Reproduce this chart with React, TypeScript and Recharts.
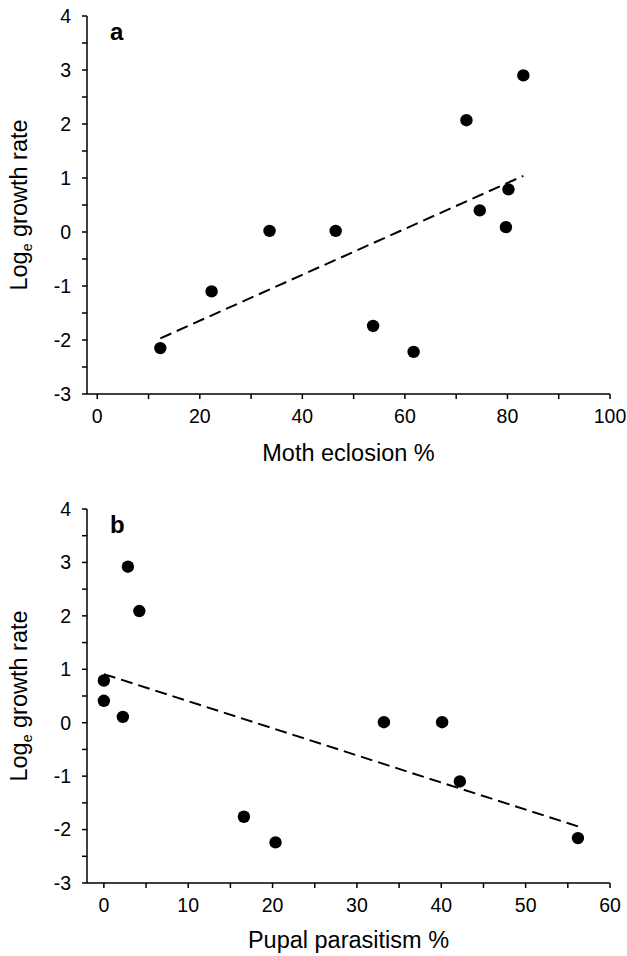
import { ScatterChart, Scatter, XAxis, YAxis, ReferenceLine, Label } from 'recharts';

// panel a: moth eclosion vs growth
const eclosion = [12.3, 22.3, 33.6, 46.5, 53.8, 61.7, 72.0, 74.6, 79.7, 80.2, 83.1];
const growthA = [-2.15, -1.1, 0.02, 0.02, -1.74, -2.22, 2.07, 0.4, 0.09, 0.79, 2.9];
const fitAx = [12.3, 83.1];
const fitAy = [-1.97, 1.04];

// panel b: pupal parasitism vs growth
const parasitism = [0.0, 0.0, 2.25, 2.85, 4.2, 16.6, 20.35, 33.2, 40.1, 42.2, 56.2];
const growthB = [0.79, 0.41, 0.11, 2.92, 2.09, -1.76, -2.24, 0.01, 0.01, -1.1, -2.16];
const fitBx = [0, 56.2];
const fitBy = [0.91, -1.94];

const yTicks = [-3, -2.5, -2, -1.5, -1, -0.5, 0, 0.5, 1, 1.5, 2, 2.5, 3, 3.5, 4];
const xTicksA = [0, 10, 20, 30, 40, 50, 60, 70, 80, 90, 100];
const xTicksB = [0, 5, 10, 15, 20, 25, 30, 35, 40, 45, 50, 55, 60];

const FONT = '"Liberation Sans", Arial, Helvetica, sans-serif';

const line = { stroke: '#000', strokeWidth: 1.5 };

interface PanelProps {
  letter: string;
  xs: number[];
  ys: number[];
  fitX: number[];
  fitY: number[];
  xMax: number;
  xTicks: number[];
  xMajor: number;
  xTitle: string;
  height: number;
  top: number;
  xAxisHeight: number;
  titleOffset: number;
}

function Panel(p: PanelProps) {
  const points = p.xs.map((x, i) => ({ x, y: p.ys[i] }));

  const xTick = (t: any) => {
    const v = t.payload.value;
    if (v % p.xMajor !== 0) return <g />;
    return (
      <text x={t.x} y={t.y} dy={22} textAnchor="middle" fontSize={19.5} fontFamily={FONT} fill="#000">
        {v}
      </text>
    );
  };

  const yTick = (t: any) => {
    const v = t.payload.value;
    if (!Number.isInteger(v)) return <g />;
    return (
      <text x={71} y={t.y} dy={6.8} textAnchor="end" fontSize={19.5} fontFamily={FONT} fill="#000">
        {v}
      </text>
    );
  };

  return (
    <ScatterChart width={627} height={p.height} margin={{ top: p.top, right: 17, bottom: 0, left: 0 }}>
      <XAxis
        type="number"
        dataKey="x"
        domain={[-2, p.xMax]}
        ticks={p.xTicks}
        interval={0}
        height={p.xAxisHeight}
        axisLine={line}
        tickLine={line}
        tickSize={5}
        tick={xTick}
      >
        <Label
          content={(lp: any) => {
            const vb = lp.viewBox;
            return (
              <text x={vb.x + vb.width / 2} y={vb.y + p.titleOffset} textAnchor="middle" fontSize={23.5} fontFamily={FONT} fill="#000">
                {p.xTitle}
              </text>
            );
          }}
        />
      </XAxis>
      <YAxis
        type="number"
        dataKey="y"
        domain={[-3, 4]}
        ticks={yTicks}
        interval={0}
        width={87}
        axisLine={line}
        tickLine={line}
        tickSize={5}
        tick={yTick}
      >
        <Label
          content={(lp: any) => {
            const vb = lp.viewBox;
            const cx = 27;
            const cy = vb.y + vb.height / 2;
            return (
              <text x={cx} y={cy} textAnchor="middle" fontSize={23.5} fontFamily={FONT} fill="#000" transform={`rotate(-90, ${cx}, ${cy})`}>
                <tspan>Log</tspan>
                <tspan fontSize={14} dy={5}>e</tspan>
                <tspan dy={-5}> growth rate</tspan>
              </text>
            );
          }}
        />
        <Label
          content={(lp: any) => {
            const vb = lp.viewBox;
            return (
              <text x={110} y={vb.y + 24} fontSize={24} fontWeight="bold" fontFamily={FONT} fill="#000">
                {p.letter}
              </text>
            );
          }}
        />
      </YAxis>
      <ReferenceLine
        segment={[
          { x: p.fitX[0], y: p.fitY[0] },
          { x: p.fitX[1], y: p.fitY[1] },
        ]}
        stroke="#000"
        strokeWidth={2}
        strokeDasharray="12 6"
      />
      <Scatter
        data={points}
        isAnimationActive={false}
        shape={(s: any) => <circle cx={s.cx} cy={s.cy} r={6.2} fill="#000" />}
      />
    </ScatterChart>
  );
}

export default function App() {
  return (
    <div style={{ position: 'absolute', left: 0, top: 0, width: 627, height: 956, background: '#fff' }}>
      <Panel
        letter="a"
        xs={eclosion}
        ys={growthA}
        fitX={fitAx}
        fitY={fitAy}
        xMax={100}
        xTicks={xTicksA}
        xMajor={20}
        xTitle="Moth eclosion %"
        height={480}
        top={16}
        xAxisHeight={86}
        titleOffset={67}
      />
      <Panel
        letter="b"
        xs={parasitism}
        ys={growthB}
        fitX={fitBx}
        fitY={fitBy}
        xMax={60}
        xTicks={xTicksB}
        xMajor={10}
        xTitle="Pupal parasitism %"
        height={476}
        top={29}
        xAxisHeight={73}
        titleOffset={65}
      />
    </div>
  );
}
